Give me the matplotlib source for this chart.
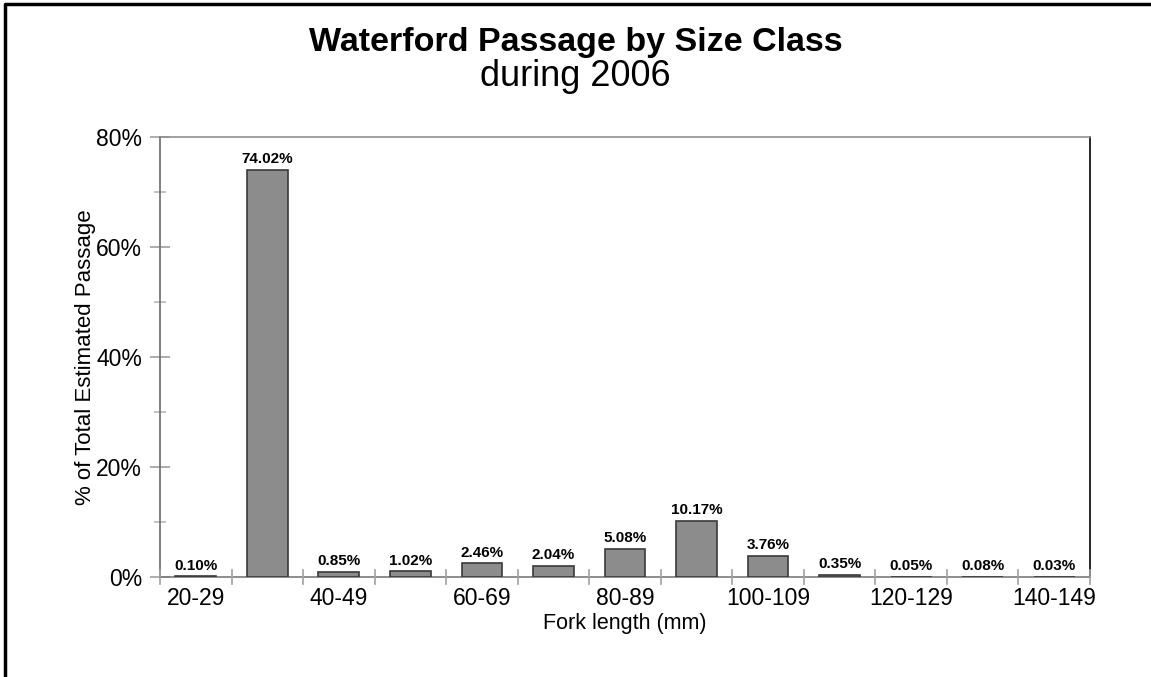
import matplotlib.pyplot as plt
from matplotlib.lines import Line2D
from matplotlib.ticker import MultipleLocator, FixedLocator

plt.rcParams['font.family'] = ['Liberation Sans', 'DejaVu Sans']

# size classes (mm) and share of total estimated passage (%)
classes = ['20-29', '30-39', '40-49', '50-59', '60-69', '70-79', '80-89',
           '90-99', '100-109', '110-119', '120-129', '130-139', '140-149']
pct = [0.10, 74.02, 0.85, 1.02, 2.46, 2.04, 5.08, 10.17, 3.76, 0.35, 0.05, 0.08, 0.03]
shown = ['20-29', '40-49', '60-69', '80-89', '100-109', '120-129', '140-149']

fig = plt.figure(figsize=(11.51, 6.77), dpi=100)
# outer frame: only left and top edges are visible
fig.lines.append(Line2D([0.0045, 0.0045, 1.0], [0.0, 0.9935, 0.9935], transform=fig.transFigure,
                        color='black', linewidth=2.5))

ax = fig.add_axes([0.139, 0.1477, 0.808, 0.65])
x = list(range(len(classes)))
ax.bar(x, pct, width=0.57, color='#8c8c8c', edgecolor='#3a3a3a', linewidth=1.2, zorder=3)

for xi, v in zip(x, pct):
    ax.text(xi, v + 0.7, f'{v:.2f}%', ha='center', va='bottom', fontsize=11, fontweight='bold')

ax.set_xlim(-0.5, len(classes) - 0.5)
ax.set_ylim(0, 80)

# category labels only under every other class, ticks on the boundaries
ax.set_xticks([i for i, c in enumerate(classes) if c in shown])
ax.set_xticklabels(shown, fontsize=16.5)
ax.tick_params(axis='x', length=0, pad=7)
bounds = [i - 0.5 for i in range(len(classes) + 1)]
for b in bounds:
    ax.plot([b, b], [-1.3, 1.3], color='#a0a0a0', lw=1.2, clip_on=False, zorder=4)

ax.yaxis.set_major_locator(FixedLocator([0, 20, 40, 60, 80]))
ax.yaxis.set_minor_locator(MultipleLocator(10))
ax.set_yticklabels(['0%', '20%', '40%', '60%', '80%'], fontsize=16.5)
ax.tick_params(axis='y', which='major', direction='inout', length=14, color='#a0a0a0', width=1.2, pad=6)
ax.tick_params(axis='y', which='minor', direction='inout', length=9, color='#b8b8b8', width=1.2)

ax.spines['left'].set_color('#6a6a6a')
ax.spines['bottom'].set_color('#7a7a7a')
ax.spines['right'].set_color('black')
ax.spines['top'].set_color('#909090')
for s in ax.spines.values():
    s.set_linewidth(1.2)

ax.set_xlabel('Fork length (mm)', fontsize=15.5, labelpad=2)
ax.set_ylabel('% of Total Estimated Passage', fontsize=16, labelpad=0)

fig.text(0.5, 0.924, 'Waterford Passage by Size Class', ha='center', va='baseline',
         fontsize=24.5, fontweight='bold')
fig.text(0.5, 0.873, 'during 2006', ha='center', va='baseline', fontsize=26)

fig.savefig('out.png', dpi=100)
